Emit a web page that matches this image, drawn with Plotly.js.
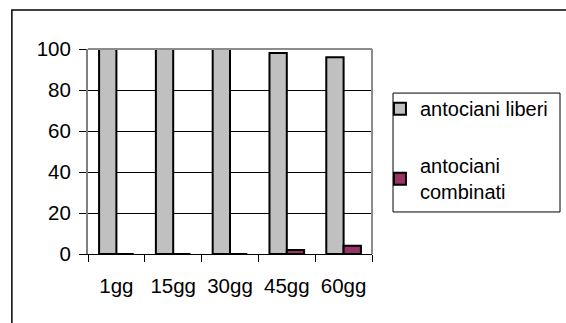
<!DOCTYPE html>
<html>
<head>
<meta charset="utf-8">
<script src="https://cdn.plot.ly/plotly-3.0.1.min.js"></script>
<style>
  html, body { margin: 0; padding: 0; background: #ffffff; }
  #chart { width: 566px; height: 323px; }
</style>
</head>
<body>
<div id="chart"></div>
<script>
// Sampling days
const giorni = ['1gg', '15gg', '30gg', '45gg', '60gg'];
// Percentage of free and combined anthocyanins
const antocianiLiberi = [100, 100, 100, 98, 96];
const antocianiCombinati = [0, 0, 0, 2, 4];
const yTicks = [0, 20, 40, 60, 80, 100];

const FONT = '"Liberation Sans", Arial, sans-serif';

const traces = [
  {
    type: 'bar',
    name: 'antociani liberi',
    x: giorni,
    y: antocianiLiberi,
    legendgroup: 'a',
    marker: { color: '#c0c0c0', line: { color: '#000000', width: 2 } },
    hoverinfo: 'x+y'
  },
  {
    type: 'bar',
    name: 'antociani<br>combinati',
    x: giorni,
    y: antocianiCombinati,
    legendgroup: 'b',
    marker: { color: '#993366', line: { color: '#000000', width: 2 } },
    hoverinfo: 'x+y'
  }
];

const layout = {
  width: 566,
  height: 323,
  margin: { l: 88, r: 194, t: 49, b: 69 },
  paper_bgcolor: '#ffffff',
  plot_bgcolor: '#ffffff',
  font: { family: FONT, size: 20, color: '#000000' },
  barmode: 'group',
  bargap: 0.39,
  bargroupgap: 0,
  xaxis: {
    type: 'category',
    tickson: 'boundaries',
    ticks: 'outside',
    ticklen: 7,
    tickwidth: 1,
    tickcolor: '#000000',
    showline: true,
    linecolor: '#000000',
    linewidth: 1,
    showgrid: false,
    zeroline: false,
    ticklabelstandoff: 13,
    tickfont: { family: FONT, size: 20.5, color: '#000000' }
  },
  yaxis: {
    range: [0, 100],
    tickvals: yTicks,
    ticktext: yTicks.map(String),
    ticks: 'outside',
    ticklen: 7,
    tickwidth: 1,
    tickcolor: '#000000',
    showline: true,
    linecolor: '#808080',
    linewidth: 2,
    showgrid: true,
    gridcolor: '#000000',
    gridwidth: 1,
    zeroline: false,
    ticklabelstandoff: 4,
    tickfont: { family: FONT, size: 20.5, color: '#000000' }
  },
  showlegend: true,
  legend: {
    x: 1.028,
    xanchor: 'left',
    y: 0.804,
    yanchor: 'top',
    traceorder: 'grouped',
    tracegroupgap: 28,
    borderwidth: 0,
    bgcolor: 'rgba(0,0,0,0)',
    font: { family: FONT, size: 20, color: '#000000' }
  },
  shapes: [
    // plot area border (top and right)
    { type: 'line', xref: 'paper', yref: 'paper', x0: 0, x1: 1, y0: 1, y1: 1,
      line: { color: '#8c8c8c', width: 2 } },
    { type: 'line', xref: 'paper', yref: 'paper', x0: 1, x1: 1, y0: 0, y1: 1,
      line: { color: '#8c8c8c', width: 2 } },
    // legend frame
    { type: 'rect', xref: 'paper', yref: 'paper',
      x0: 1.074, x1: 1.662, y0: 0.205, y1: 0.785,
      line: { color: '#000000', width: 1 } },
    // chart frame
    { type: 'rect', xref: 'paper', yref: 'paper',
      x0: -0.268, x1: 1.9, y0: -0.5, y1: 1.19,
      line: { color: '#000000', width: 1.5 } }
  ]
};

Plotly.newPlot('chart', traces, layout, { displayModeBar: false, staticPlot: true });
</script>
</body>
</html>
